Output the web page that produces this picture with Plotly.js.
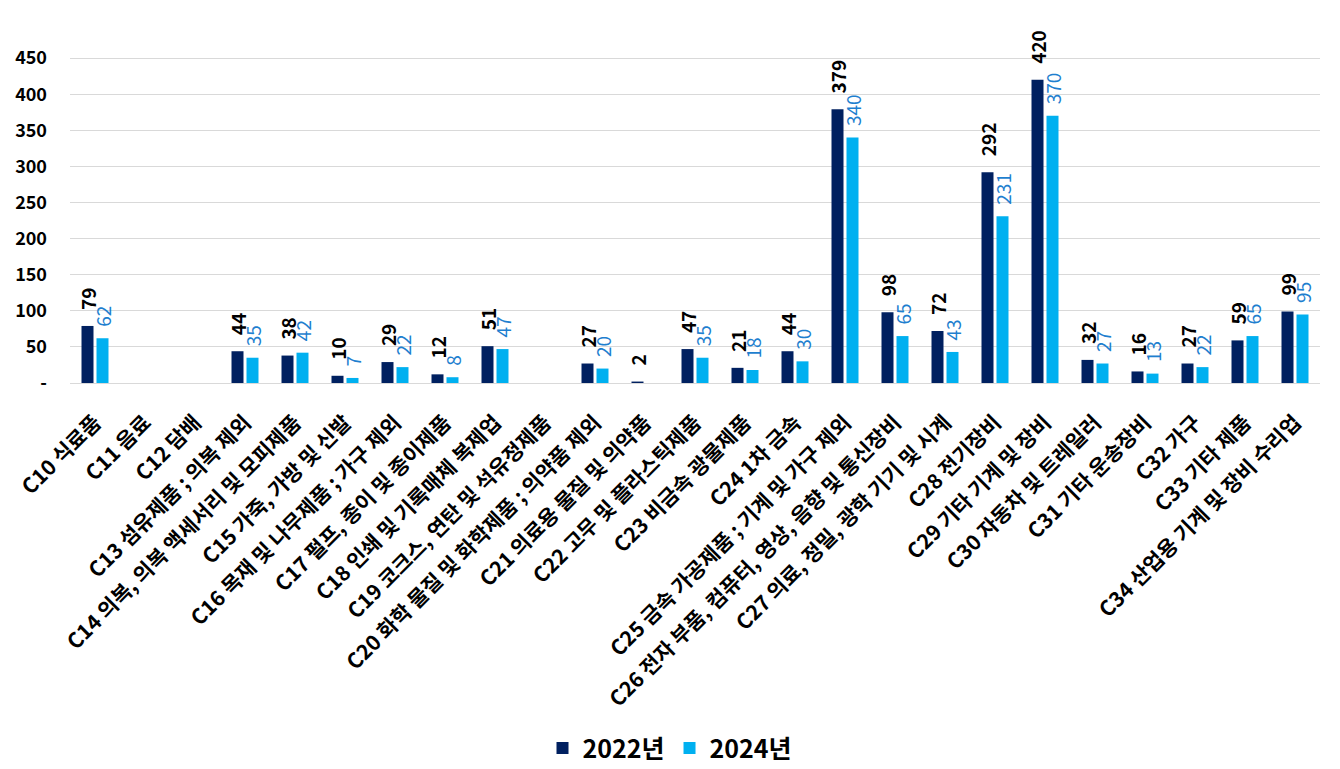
<!DOCTYPE html>
<html><head><meta charset="utf-8">
<script src="https://cdn.plot.ly/plotly-3.0.1.min.js"></script>
<style>html,body{margin:0;padding:0;background:#fff}#c{width:1340px;height:769px}</style>
</head><body><div id="c"></div>
<script>
var categories = ["C10 식료품","C11 음료","C12 담배","C13 섬유제품 ; 의복 제외","C14 의복, 의복 액세서리 및 모피제품","C15 가죽, 가방 및 신발","C16 목재 및 나무제품 ; 가구 제외","C17 펄프, 종이 및 종이제품","C18 인쇄 및 기록매체 복제업","C19 코크스, 연탄 및 석유정제품","C20 화학 물질 및 화학제품 ; 의약품 제외","C21 의료용 물질 및 의약품","C22 고무 및 플라스틱제품","C23 비금속 광물제품","C24 1차 금속","C25 금속 가공제품 ; 기계 및 가구 제외","C26 전자 부품, 컴퓨터, 영상, 음향 및 통신장비","C27 의료, 정밀, 광학 기기 및 시계","C28 전기장비","C29 기타 기계 및 장비","C30 자동차 및 트레일러","C31 기타 운송장비","C32 가구","C33 기타 제품","C34 산업용 기계 및 장비 수리업"];
var v2022 = [79,null,null,44,38,10,29,12,51,null,27,2,47,21,44,379,98,72,292,420,32,16,27,59,99];
var v2024 = [62,null,null,35,42,7,22,8,47,null,20,null,35,18,30,340,65,43,231,370,27,13,22,65,95];
var yTicks = [0,50,100,150,200,250,300,350,400,450];
var yTickText = ["-","50","100","150","200","250","300","350","400","450"];

var F = '"Noto Sans CJK KR", "Noto Sans", sans-serif';
function lbl(a, pad){return a.map(function(v){return v==null?'':pad+String(v);});}
var traces = [
 {type:'bar', name:'2022년', x:categories, y:v2022, marker:{color:'#002060'},
  text:lbl(v2022,'\u00A0\u00A0\u00A0'), textposition:'outside', textangle:-90, cliponaxis:false, constraintext:'none',
  textfont:{family:F, size:19, color:'#000', weight:'bold'}, hoverinfo:'none'},
 {type:'bar', name:'2024년', x:categories, y:v2024, marker:{color:'#00B0F0'},
  text:lbl(v2024,'\u00A0\u00A0'), textposition:'outside', textangle:-90, cliponaxis:false, constraintext:'none',
  textfont:{family:F, size:19, color:'#1F7FCF'}, hoverinfo:'none'}
];
var layout = {
 width:1340, height:769,
 margin:{l:70, r:20, t:22, b:386},
 paper_bgcolor:'#fff', plot_bgcolor:'#fff',
 barmode:'group', bargap:0.4, bargroupgap:0.2,
 font:{family:F, size:18, color:'#000'},
 xaxis:{type:'category', tickangle:-45, tickfont:{family:F, size:21, color:'#000', weight:'bold'},
   showgrid:false, showline:true, linecolor:'#d9d9d9', linewidth:1, ticks:'', automargin:false,
   ticklabelstandoff:18},
 yaxis:{range:[0,500], tickvals:yTicks, ticktext:yTickText, showgrid:true, gridcolor:'#d9d9d9',
   gridwidth:1, zeroline:false, showline:false, ticks:'', ticklen:0, ticklabelstandoff:22,
   tickfont:{family:F, size:18, color:'#000', weight:'bold'}, automargin:false},
 showlegend:true,
 legend:{orientation:'h', xref:'container', yref:'container', x:0.5, xanchor:'center', y:0.027, yanchor:'middle',
   font:{family:F, size:25, color:'#000', weight:'bold'}, itemsizing:'constant', traceorder:'normal', itemwidth:30}
};
Plotly.newPlot('c', traces, layout, {displayModeBar:false, staticPlot:true});
</script></body></html>
